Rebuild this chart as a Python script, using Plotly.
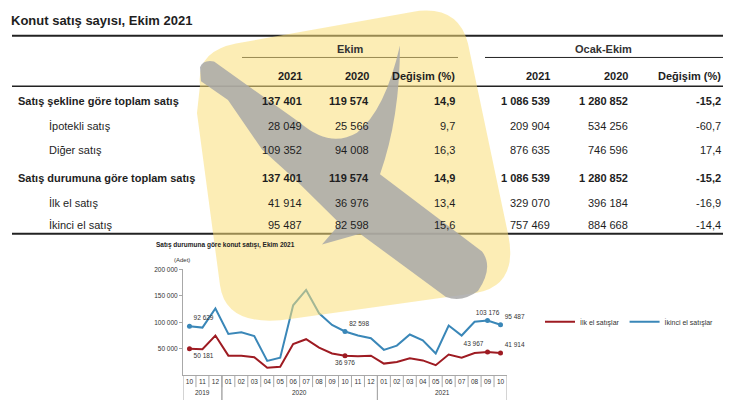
import plotly.graph_objects as go

W, H = 740, 400

# ---- table data ----
table_title = "Konut satış sayısı, Ekim 2021"
group_heads = ["Ekim", "Ocak-Ekim"]
col_heads = ["2021", "2020", "Değişim (%)", "2021", "2020", "Değişim (%)"]
row_labels = ["Satış şekline göre toplam satış", "İpotekli satış", "Diğer satış",
              "Satış durumuna göre toplam satış", "İlk el satış", "İkinci el satış"]
row_bold = [True, False, False, True, False, False]
ekim_2021 = [137401, 28049, 109352, 137401, 41914, 95487]
ekim_2020 = [119574, 25566, 94008, 119574, 36976, 82598]
ekim_change = [14.9, 9.7, 16.3, 14.9, 13.4, 15.6]
ocak_2021 = [1086539, 209904, 876635, 1086539, 329070, 757469]
ocak_2020 = [1280852, 534256, 746596, 1280852, 396184, 884668]
ocak_change = [-15.2, -60.7, 17.4, -15.2, -16.9, -14.4]

# ---- chart data ----
chart_title = "Satış durumuna göre konut satışı, Ekim 2021"
years = ["2019", "2019", "2019",
         "2020", "2020", "2020", "2020", "2020", "2020", "2020", "2020", "2020", "2020", "2020", "2020",
         "2021", "2021", "2021", "2021", "2021", "2021", "2021", "2021", "2021", "2021"]
months = ["10", "11", "12",
          "01", "02", "03", "04", "05", "06", "07", "08", "09", "10", "11", "12",
          "01", "02", "03", "04", "05", "06", "07", "08", "09", "10"]
ilk_el = [50181, 49000, 75000, 37000, 37000, 34000, 14000, 16000, 59000, 68000, 52000, 41000,
          36976, 36000, 37000, 22000, 25000, 32000, 28000, 19000, 39000, 33000, 42000, 43967, 41914]
ikinci_el = [92629, 90000, 126000, 78000, 81000, 74000, 27000, 33000, 132000, 161000, 117000, 95000,
             82598, 75000, 70000, 48000, 56000, 77000, 66000, 41000, 94000, 75000, 101000, 103176, 95487]
labelled = [0, 12, 23, 24]
ilk_pos = ["bottom right", "bottom center", "top left", "top right"]
ikinci_pos = ["top right", "top right", "top center", "top right"]
y_ticks = [50000, 100000, 150000, 200000]

RED = "#9e1b22"
BLUE = "#3a87b8"
AXIS = "#a8a8a8"
FONT = "Liberation Sans, Arial, sans-serif"
INK = "#1e1e1e"


def fmt(n):
    return f"{n:,}".replace(",", " ")


def pct(v):
    return f"{v:.1f}".replace(".", ",")


def px(x):
    return x / W


def py(y):
    return 1 - y / H


keys = [f"{m}/{y}" for y, m in zip(years, months)]

fig = go.Figure()

series = [("İlk el satışlar", ilk_el, RED, ilk_pos),
          ("İkinci el satışlar", ikinci_el, BLUE, ikinci_pos)]
for name, vals, color, positions in series:
    fig.add_trace(go.Scatter(x=keys, y=vals, name=name, mode="lines",
                             line=dict(color=color, width=2), hoverinfo="skip"))
for name, vals, color, positions in series:
    fig.add_trace(go.Scatter(
        x=[keys[i] for i in labelled], y=[vals[i] for i in labelled],
        mode="markers+text", showlegend=False, marker=dict(color=color, size=5),
        text=[fmt(vals[i]) for i in labelled], textposition=positions,
        textfont=dict(size=6.5, color="#333", family=FONT), cliponaxis=False,
        hoverinfo="skip"))


def add_text(x, y, s, anchor="left", size=11, bold=False, color=INK, xref="paper"):
    fig.add_annotation(x=x if xref == "x" else px(x), y=py(y), xref=xref, yref="paper",
                       text=f"<b>{s}</b>" if bold else s, showarrow=False,
                       xanchor=anchor, yanchor="middle",
                       font=dict(size=size, color=color, family=FONT))


def add_rule(x0, x1, y, width=1, color="#222"):
    fig.add_shape(type="line", xref="paper", yref="paper",
                  x0=px(x0), x1=px(x1), y0=py(y), y1=py(y),
                  line=dict(color=color, width=width))


# table
add_text(9, 17, table_title, size=13, bold=True)
add_rule(12, 723, 32, width=2)
add_text(350, 45, group_heads[0], anchor="center", size=11, bold=True, color="#333")
add_text(603, 45, group_heads[1], anchor="center", size=11, bold=True, color="#333")
add_rule(242, 458, 54)
add_rule(485, 723, 54)
col_x = [304, 371, 457, 552, 630, 723]
for cx, head in zip(col_x, col_heads):
    add_text(cx, 73, head, anchor="right", size=11, bold=True)
add_rule(12, 723, 83, width=1.5)

row_y = [98, 123, 147, 176, 201, 223]
for i, label in enumerate(row_labels):
    b = row_bold[i]
    add_text(16 if b else 47, row_y[i], label, size=11, bold=b)
    cells = [fmt(ekim_2021[i]), fmt(ekim_2020[i]), pct(ekim_change[i]),
             fmt(ocak_2021[i]), fmt(ocak_2020[i]), pct(ocak_change[i])]
    for cx, c in zip(col_x, cells):
        add_text(cx, row_y[i], c, anchor="right", size=11, bold=b)
add_rule(12, 723, 232, width=2)

# chart captions
add_text(154, 243, chart_title, size=6.5, bold=True, color="#222")
add_text(172, 259, "(Adet)", size=6, color="#333")

# month separators and year groups under the x axis
for i in range(1, len(keys)):
    fig.add_shape(type="line", xref="x", yref="paper", x0=i - 0.5, x1=i - 0.5,
                  y0=py(375), y1=py(387), line=dict(color=AXIS, width=1))
groups = []
for i, y in enumerate(years):
    if not groups or groups[-1][0] != y:
        groups.append([y, i, i])
    groups[-1][2] = i
for y, first, last in groups:
    add_text((first + last) / 2, 392, y, anchor="center", size=6.5, color="#333", xref="x")
    for b in (first - 0.5, last + 0.5):
        fig.add_shape(type="line", xref="x", yref="paper", x0=b, x1=b,
                      y0=py(375), y1=py(400), line=dict(color=AXIS, width=1))


# watermark logo (decoration drawn over the page, semi transparent)
def path(points):
    out = []
    for cmd, *xy in points:
        coords = " ".join(f"{px(xy[k]):.4f},{py(xy[k + 1]):.4f}" for k in range(0, len(xy), 2))
        out.append(f"{cmd} {coords}")
    return " ".join(out) + " Z"


yellow = path([("M", 197, 110), ("L", 200, 82), ("Q", 196, 48, 236, 40), ("L", 412, 8),
               ("Q", 458, 0, 468, 40), ("L", 508, 232), ("Q", 519, 284, 476, 292),
               ("L", 292, 318), ("Q", 226, 328, 220, 284)])
grey = path([("M", 200, 64), ("Q", 203, 56, 214, 58), ("L", 300, 120),
             ("Q", 330, 146, 357, 130), ("Q", 385, 108, 400, 42),
             ("Q", 400, 115, 380, 172), ("L", 482, 250),
             ("Q", 494, 266, 478, 290), ("Q", 462, 302, 446, 296), ("L", 360, 232),
             ("L", 322, 243), ("L", 340, 222), ("L", 295, 177), ("L", 262, 147),
             ("L", 228, 97), ("L", 201, 78)])
fig.add_shape(type="path", path=yellow, xref="paper", yref="paper", layer="above",
              fillcolor="rgba(250,222,120,0.55)", line=dict(width=0))
fig.add_shape(type="path", path=grey, xref="paper", yref="paper", layer="above",
              fillcolor="rgba(168,168,168,0.85)", line=dict(width=0))

fig.update_layout(
    width=W, height=H, margin=dict(l=0, r=0, t=0, b=0),
    paper_bgcolor="white", plot_bgcolor="white",
    font=dict(family=FONT, size=7, color="#333"),
    showlegend=True,
    legend=dict(orientation="h", x=px(540), y=py(321), xanchor="left", yanchor="middle",
                font=dict(size=7, color="#333"), itemwidth=30, bgcolor="rgba(0,0,0,0)"),
    xaxis=dict(domain=[px(183), px(507)], type="category", range=[-0.5, len(keys) - 0.5],
               showline=True, linecolor=AXIS, linewidth=1, ticks="",
               tickvals=keys, ticktext=months, tickangle=0,
               tickfont=dict(size=6.5, color="#333"), showgrid=False, fixedrange=True),
    yaxis=dict(domain=[py(375), py(268)], range=[0, 200000], showline=True,
               linecolor=AXIS, linewidth=1, ticks="outside", ticklen=3,
               tickcolor=AXIS, tickvals=y_ticks, ticktext=[fmt(v) for v in y_ticks],
               tickfont=dict(size=6.5, color="#333"), showgrid=False, zeroline=False,
               fixedrange=True),
)

fig.write_html("out.html", config={"displayModeBar": False},
               post_script="document.body.style.margin='0';")
